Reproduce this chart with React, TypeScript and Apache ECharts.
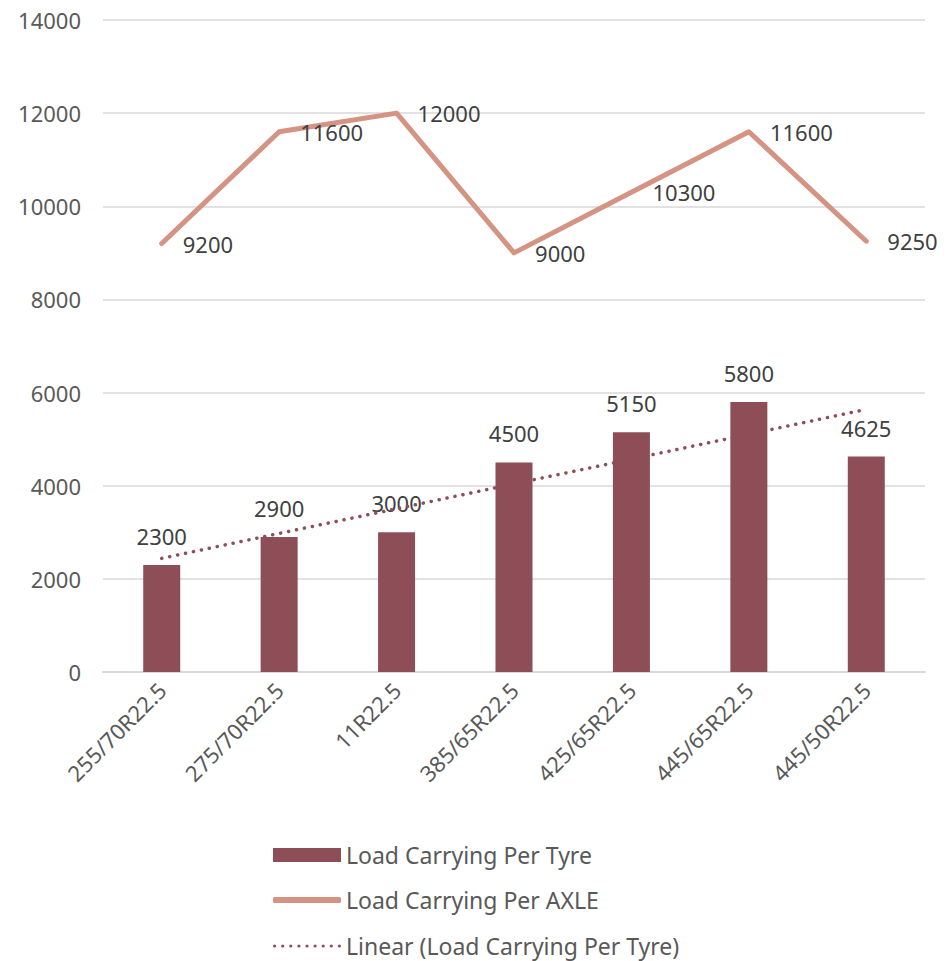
import React, { useEffect, useRef } from "react";
import * as echarts from "echarts";

const categories = [
  "255/70R22.5",
  "275/70R22.5",
  "11R22.5",
  "385/65R22.5",
  "425/65R22.5",
  "445/65R22.5",
  "445/50R22.5",
];
const perTyre = [2300, 2900, 3000, 4500, 5150, 5800, 4625];
const perAxle = [9200, 11600, 12000, 9000, 10300, 11600, 9250];
const trendPerTyre = [2440, 2975, 3505, 4040, 4570, 5105, 5640];

const NAME_TYRE = "Load Carrying Per Tyre";
const NAME_AXLE = "Load Carrying Per AXLE";
const NAME_TREND = "Linear (Load Carrying Per Tyre)";

const FONT = "'Noto Sans', 'Noto Sans CJK JP', sans-serif";
const TXT = "#595959";
const LBL = "#404040";
const BAR = "#8E4E57";
const LINE = "#D49383";

function dotsPath(): string {
  let d = "";
  const r = 1.6;
  for (let i = 0; i < 9; i++) {
    const cx = r + i * 8.1;
    d += `M${cx - r},${r}a${r},${r} 0 1,0 ${2 * r},0a${r},${r} 0 1,0 ${-2 * r},0Z`;
  }
  return "path://" + d;
}

export default function App() {
  const ref = useRef<HTMLDivElement>(null);
  useEffect(() => {
    if (!ref.current) return;
    const chart = echarts.init(ref.current, undefined, { renderer: "svg" });
    const legendText = { fontSize: 23, lineHeight: 26, color: TXT, fontFamily: FONT };
    chart.setOption({
      animation: false,
      textStyle: { fontFamily: FONT },
      grid: { left: 103, right: 23, top: 20, bottom: 289, containLabel: false },
      legend: [
        {
          orient: "vertical",
          left: 268,
          top: 837,
          itemWidth: 68,
          itemHeight: 14,
          textStyle: legendText,
          data: [{ name: NAME_TYRE, icon: "rect" }],
        },
        {
          orient: "vertical",
          left: 268,
          top: 882,
          itemWidth: 68,
          itemHeight: 6,
          symbolKeepAspect: false,
          textStyle: legendText,
          data: [{ name: NAME_AXLE, icon: "roundRect", itemStyle: { color: LINE } }],
        },
        {
          orient: "vertical",
          left: 268,
          top: 928,
          itemWidth: 68,
          itemHeight: 3.2,
          symbolKeepAspect: false,
          textStyle: legendText,
          data: [{ name: NAME_TREND, icon: dotsPath(), itemStyle: { color: BAR } }],
        },
      ],
      xAxis: {
        type: "category",
        data: categories,
        boundaryGap: true,
        axisLine: { lineStyle: { color: "#D9D9D9", width: 2 } },
        axisTick: { show: false },
        axisLabel: {
          rotate: 45,
          interval: 0,
          fontSize: 22,
          color: TXT,
          fontFamily: FONT,
          margin: 14,
        },
      },
      yAxis: {
        type: "value",
        min: 0,
        max: 14000,
        interval: 2000,
        axisLine: { show: false },
        axisTick: { show: false },
        splitLine: { lineStyle: { color: "#D9D9D9", width: 1.5 } },
        axisLabel: {
          fontSize: 22,
          color: TXT,
          fontFamily: FONT,
          margin: 22,
          formatter: (v: number) => String(v),
        },
      },
      series: [
        {
          name: NAME_TYRE,
          type: "bar",
          data: perTyre,
          barWidth: 37,
          itemStyle: { color: BAR },
          label: {
            show: true,
            position: "top",
            distance: 18,
            fontSize: 22,
            color: LBL,
            fontFamily: FONT,
          },
          z: 2,
        },
        {
          name: NAME_AXLE,
          type: "line",
          data: perAxle,
          symbol: "circle",
          symbolSize: 0.1,
          showSymbol: true,
          lineStyle: { color: LINE, width: 5, cap: "round", join: "round" },
          itemStyle: { color: LINE },
          label: {
            show: true,
            position: "right",
            distance: 21,
            fontSize: 22,
            color: LBL,
            fontFamily: FONT,
          },
          z: 3,
        },
        {
          name: NAME_TREND,
          type: "line",
          data: trendPerTyre,
          symbol: "none",
          lineStyle: { color: BAR, width: 3.5, type: [0.1, 8], cap: "round" },
          itemStyle: { color: BAR },
          z: 4,
        },
      ],
    });
    return () => chart.dispose();
  }, []);
  return <div ref={ref} style={{ width: 948, height: 961, position: "absolute", left: 0, top: 0 }} />;
}
